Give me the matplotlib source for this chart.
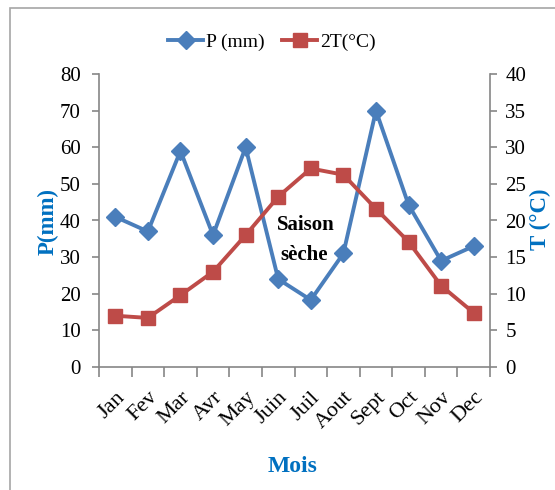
import matplotlib.pyplot as plt
from matplotlib.patches import Rectangle
from matplotlib.lines import Line2D

# Données mensuelles
mois = ['Jan', 'Fev', 'Mar', 'Avr', 'May', 'Juin', 'Juil', 'Aout', 'Sept', 'Oct', 'Nov', 'Dec']
pluie = [41, 37, 59, 36, 60, 24, 18.3, 31, 70, 44.3, 29, 33]
temp_x2 = [14, 13.4, 19.6, 26, 36, 46.5, 54.2, 52.5, 43.2, 34.2, 22.2, 14.8]

gris = '#868686'
bleu = '#4A7EBB'
rouge = '#BE4B48'
bleu_titre = '#0070C0'

plt.rcParams['font.family'] = 'Liberation Serif'

W, H = 555, 490
fig = plt.figure(figsize=(W / 100, H / 100), dpi=100)

# cadre du graphique
fig.patches.append(Rectangle((10 / W, -0.05), 1.1, 1 - 8 / H + 0.05,
                             transform=fig.transFigure, fill=False,
                             edgecolor='#A6A6A6', linewidth=1.2))

ax = fig.add_axes([99 / W, 123 / H, 391 / W, 293 / H])
x = range(len(mois))

ax.plot(x, pluie, color=bleu, lw=2.8, marker='D', ms=9.5, label='P (mm)', zorder=3)
ax.plot(x, temp_x2, color=rouge, lw=2.8, marker='s', ms=10, label='2T(°C)', zorder=3)

ax.set_xlim(-0.5, 11.5)
ax.set_ylim(0, 80)
ax.set_yticks(range(0, 81, 10))

for s in ['top', 'right']:
    ax.spines[s].set_visible(False)
for s in ['left', 'bottom']:
    ax.spines[s].set_color(gris)
    ax.spines[s].set_linewidth(1.2)

# graduations de l'axe des mois entre les catégories
ax.set_xticks([i - 0.5 for i in range(13)], minor=True)
ax.set_xticks(list(x))
ax.set_xticklabels(mois, rotation=45, ha='right', va='top', rotation_mode='anchor', fontsize=16)
ax.tick_params(axis='x', which='major', length=0, pad=15)
ax.tick_params(axis='x', which='minor', length=7, color=gris, width=1.2)
ax.tick_params(axis='y', length=5, color=gris, width=1.2, labelsize=15, pad=8)

# axe secondaire pour T
ax2 = ax.twinx()
ax2.set_ylim(0, 40)
ax2.set_yticks(range(0, 41, 5))
for s in ['top', 'left', 'bottom']:
    ax2.spines[s].set_visible(False)
ax2.spines['right'].set_color(gris)
ax2.spines['right'].set_linewidth(1.2)
ax2.tick_params(axis='y', length=5, color=gris, width=1.2, labelsize=15, pad=6)

# titres des axes
fig.text(48 / W, 1 - 221 / H, 'P(mm)', rotation=90, ha='center', va='center',
         fontsize=16.5, fontweight='bold', color=bleu_titre)
fig.text(540 / W, 1 - 219 / H, 'T (°C)', rotation=90, ha='center', va='center',
         fontsize=16.5, fontweight='bold', color=bleu_titre)
fig.text(293 / W, 1 - 466 / H, 'Mois', ha='center', va='center',
         fontsize=17, fontweight='bold', color=bleu_titre)

ax.text(5.86, 37.4, 'Saison', ha='center', va='baseline', fontsize=15,
        fontweight='bold', zorder=4)
ax.text(5.8, 29.2, 'sèche', ha='center', va='baseline', fontsize=15,
        fontweight='bold', zorder=4)

# légende
poignees = [Line2D([], [], color=bleu, lw=2.8, marker='D', ms=9),
            Line2D([], [], color=rouge, lw=2.8, marker='s', ms=10)]
fig.legend(poignees, ['P (mm)', '2T(°C)'], loc='center', bbox_to_anchor=(272 / W, 1 - 42 / H),
           ncol=2, frameon=False, fontsize=14, handlelength=1.8, handletextpad=0.15,
           columnspacing=0.9)

plt.savefig('out.png', dpi=100)
